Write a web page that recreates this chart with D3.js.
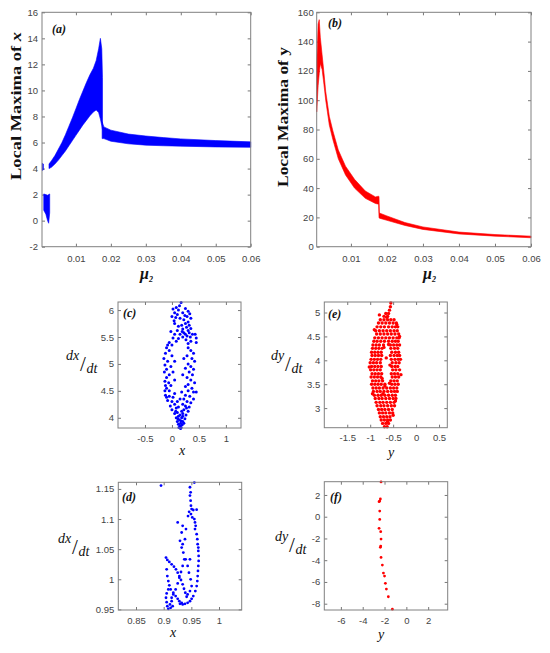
<!DOCTYPE html>
<html>
<head>
<meta charset="utf-8">
<script src="https://cdn.jsdelivr.net/npm/d3@7"></script>
<style>
    body { margin: 0; background: #fff; }
    .tick text { font-family: "Liberation Sans", Arial, sans-serif; fill: #444; }
    .tick line { stroke: #777; }
    .box { fill: none; stroke: #808080; stroke-width: 1; }
    .lab { font-family: "Liberation Serif", "Times New Roman", serif; fill: #111; }
</style>
</head>
<body>
<svg id="fig" width="550" height="653"></svg>
<script>
// ---- panel (a): local maxima of x vs mu2, bands as [mu, low, high]
let bandAEdge = [[0.0004, 3.85, 4.4], [0.0007, 3.9, 4.35]];
let bandALow = [[0.0008, 0.8, 2.05], [0.0014, 0.5, 2.0], [0.0019, 0.0, 1.95], [0.0022, -0.2, 2.0], [0.0025, 0.6, 2.05]];
let bandAMain = [[0.0023, 4.0, 4.35], [0.003, 4.1, 4.6], [0.004, 4.35, 5.0], [0.005, 4.65, 5.5], [0.006, 5.0, 6.0],
    [0.007, 5.35, 6.6], [0.008, 5.75, 7.25], [0.009, 6.15, 7.9], [0.010, 6.55, 8.6], [0.011, 6.95, 9.3],
    [0.012, 7.35, 9.95], [0.013, 7.7, 10.6], [0.014, 8.05, 11.2], [0.015, 8.35, 11.7], [0.0158, 8.5, 12.3],
    [0.0165, 8.3, 13.2], [0.0170, 7.8, 14.0], [0.0174, 7.3, 13.2], [0.0176, 7.0, 11.0]];
let bandAPost = [[0.0175, 6.3, 7.6], [0.018, 6.3, 7.2], [0.02, 6.1, 6.95], [0.025, 5.9, 6.65], [0.03, 5.8, 6.5],
    [0.035, 5.75, 6.38], [0.04, 5.72, 6.28], [0.05, 5.66, 6.15], [0.06, 5.63, 6.05]];
let ticksAx = [0.01, 0.02, 0.03, 0.04, 0.05, 0.06];
let ticksAy = [-2, 0, 2, 4, 6, 8, 10, 12, 14, 16];

// ---- panel (b): local maxima of y vs mu2
let bandB = [[0.0005, 92, 125], [0.0009, 110, 152], [0.0012, 118, 155], [0.0015, 125, 143], [0.0020, 121, 131],
    [0.0025, 111, 119], [0.003, 100, 106], [0.004, 83, 89], [0.005, 73, 79], [0.0065, 60, 66],
    [0.0085, 49, 55], [0.011, 40, 46], [0.014, 33, 38], [0.0168, 29.5, 34], [0.0177, 29, 34.5],
    [0.0178, 20, 34], [0.0179, 19.5, 23], [0.02, 18, 21], [0.025, 14.5, 16.5], [0.03, 11.8, 13.5],
    [0.04, 8.7, 10], [0.05, 7.2, 8.3], [0.06, 6.1, 7.2]];
let ticksBy = [0, 20, 40, 60, 80, 100, 120, 140, 160];

// ---- panel (c): x vs dx/dt
let pointsC = [[0.17, 6.14], [0.02, 6.02], [0.08, 6.05], [0.12, 6.0], [0.25, 6.03], [0.3, 5.98], [0.05, 5.95],
    [0.1, 5.92], [0.2, 5.95], [0.33, 5.93], [0.0, 5.88], [0.07, 5.86], [0.15, 5.85], [0.28, 5.88], [0.35, 5.85],
    [0.22, 5.82], [0.3, 5.78], [0.25, 5.75], [0.32, 5.72], [0.18, 5.72], [0.05, 5.75], [0.12, 5.7], [0.27, 5.68],
    [0.35, 5.66], [0.2, 5.65], [0.1, 5.62], [-0.02, 5.6], [0.3, 5.62], [0.22, 5.58], [0.25, 5.55], [0.28, 5.52],
    [0.15, 5.55], [0.05, 5.55], [0.32, 5.58], [0.38, 5.55], [0.45, 5.48], [0.43, 5.55], [0.2, 5.5], [0.26, 5.45],
    [0.02, 5.48], [0.08, 5.42], [-0.05, 5.4], [0.35, 5.42], [0.3, 5.38], [0.14, 6.08], [0.04, 5.8], [0.24, 5.9],
    [0.19, 5.6], [0.34, 5.5], [0.12, 5.47], [-0.1, 5.3], [-0.12, 5.2], [-0.05, 5.25], [0.0, 5.15], [-0.15, 5.1],
    [-0.08, 5.05], [-0.13, 4.98], [-0.02, 4.95],
    [-0.1, 4.9], [-0.14, 4.85], [-0.05, 4.8], [0.02, 4.85], [-0.1, 4.75], [-0.13, 4.68], [-0.06, 4.65], [-0.12, 4.6],
    [-0.02, 4.6], [-0.1, 4.55], [-0.05, 4.5], [-0.13, 4.5], [0.05, 5.05], [0.05, 4.7], [0.0, 5.35], [-0.08, 5.35],
    [0.3, 5.3], [0.35, 5.25], [0.4, 5.2], [0.28, 5.15], [0.37, 5.1], [0.42, 5.05], [0.3, 5.0], [0.35, 4.95],
    [0.25, 4.92], [0.4, 4.9], [0.32, 4.85], [0.38, 4.8], [0.28, 4.75], [0.35, 4.7], [0.42, 4.65], [0.3, 4.62],
    [0.25, 4.58], [0.37, 4.55], [0.45, 4.48], [0.4, 4.48], [0.3, 4.5], [0.22, 5.1], [0.2, 4.8], [0.45, 5.4],
    [-0.12, 4.42], [-0.05, 4.4], [0.02, 4.38], [0.25, 4.42], [0.33, 4.4], [0.4, 4.35], [-0.08, 4.32], [0.0, 4.3],
    [0.28, 4.3], [0.35, 4.28], [0.05, 4.25], [-0.03, 4.22], [0.25, 4.22], [0.32, 4.2], [0.08, 4.18], [0.0, 4.15],
    [0.22, 4.15], [0.3, 4.12], [0.1, 4.1], [0.05, 4.08], [0.2, 4.08], [0.26, 4.05], [0.12, 4.03], [0.08, 4.0],
    [0.18, 4.0], [0.24, 3.98], [0.14, 3.96], [0.1, 3.93], [0.2, 3.93], [0.16, 3.9], [0.12, 3.88], [0.19, 3.87],
    [0.15, 3.85], [0.17, 3.82], [0.13, 3.82], [0.16, 3.8], [0.2, 4.03], [0.15, 4.05], [0.18, 4.12], [0.12, 4.2],
    [0.1, 4.3], [0.2, 4.25], [0.22, 4.35], [0.15, 4.35], [0.05, 4.45], [0.18, 4.48], [0.22, 3.9], [0.11, 3.98],
    [0.17, 3.94], [0.07, 4.12], [0.27, 4.18], [-0.1, 4.38]];
let ticksCx = [-0.5, 0, 0.5, 1];
let ticksCy = [4, 4.5, 5, 5.5, 6];

// ---- panel (e): y vs dy/dt, rows of [dy/dt, [y values]] plus loose points
let rowsE = [[5.2, [-0.55]], [5.12, [-0.56]], [5.05, [-0.58]], [4.98, [-0.6, -0.66]], [4.92, [-0.62, -0.7]],
    [4.85, [-0.78, -0.7, -0.62, -0.55, -0.48]], [4.78, [-0.82, -0.74, -0.66, -0.58, -0.5, -0.43]],
    [4.7, [-0.85, -0.77, -0.69, -0.6, -0.52, -0.45, -0.4]], [4.62, [-0.88, -0.8, -0.72, -0.64, -0.56, -0.48, -0.41]],
    [4.55, [-0.86, -0.78, -0.7, -0.62, -0.54, -0.46, -0.38]], [4.47, [-0.9, -0.82, -0.74, -0.66, -0.58, -0.5, -0.42, -0.37]],
    [4.4, [-0.92, -0.85, -0.77, -0.69, -0.6, -0.52, -0.45, -0.39]], [4.32, [-0.94, -0.87, -0.8, -0.71, -0.56, -0.49, -0.42, -0.36]],
    [4.25, [-0.95, -0.88, -0.81, -0.74, -0.55, -0.47, -0.4]], [4.17, [-0.97, -0.9, -0.83, -0.76, -0.53, -0.45, -0.38]],
    [4.1, [-0.96, -0.89, -0.82, -0.75, -0.56, -0.48, -0.41, -0.36]], [4.02, [-0.98, -0.91, -0.84, -0.77, -0.54, -0.46, -0.39]],
    [3.95, [-1.0, -0.93, -0.86, -0.78, -0.52, -0.44, -0.37]], [3.87, [-0.97, -0.9, -0.83, -0.76, -0.53, -0.46, -0.4]],
    [3.8, [-0.99, -0.92, -0.85, -0.78, -0.51, -0.44, -0.36]], [3.72, [-0.96, -0.89, -0.82, -0.75, -0.54, -0.47, -0.4]],
    [3.65, [-0.98, -0.91, -0.84, -0.77, -0.52, -0.45, -0.38]], [3.57, [-0.95, -0.88, -0.81, -0.73, -0.55, -0.48, -0.41]],
    [3.5, [-0.97, -0.9, -0.83, -0.76, -0.68, -0.53, -0.46, -0.39]], [3.42, [-0.94, -0.87, -0.8, -0.72, -0.64, -0.56, -0.49, -0.42]],
    [3.35, [-0.93, -0.85, -0.78, -0.7, -0.62, -0.54, -0.47, -0.41]], [3.27, [-0.91, -0.83, -0.76, -0.68, -0.6, -0.52, -0.45]],
    [3.2, [-0.89, -0.81, -0.74, -0.66, -0.58, -0.5, -0.44]], [3.12, [-0.87, -0.79, -0.72, -0.64, -0.56, -0.48]],
    [3.05, [-0.85, -0.77, -0.7, -0.62, -0.54, -0.47]], [2.97, [-0.82, -0.75, -0.68, -0.6, -0.52]],
    [2.9, [-0.8, -0.73, -0.66, -0.58, -0.51]], [2.82, [-0.78, -0.71, -0.64, -0.57]],
    [2.75, [-0.76, -0.69, -0.62, -0.56]], [2.68, [-0.73, -0.66, -0.6]], [2.61, [-0.69, -0.63]]];
let looseE = [[-0.65, 4.05], [-0.72, 3.3], [-0.58, 3.52], [-0.91, 4.64], [-0.34, 4.02], [-0.45, 3.15],
    [-0.62, 2.72], [-0.7, 4.27], [-0.6, 4.33], [-0.68, 3.46], [-1.02, 3.86], [-0.33, 3.7], [-0.64, 4.9],
    [-0.74, 3.62], [-0.57, 3.9], [-0.8, 4.95], [-0.42, 4.75], [-0.36, 4.5], [-0.5, 2.85], [-0.95, 3.3]];
let ticksEx = [-1.5, -1, -0.5, 0, 0.5];
let ticksEy = [3, 3.5, 4, 4.5, 5];

// ---- panel (d): x vs dx/dt
let pointsD = [[0.8952, 1.1555], [0.9554, 1.1605], [0.9475, 1.1528], [0.9487, 1.1444], [0.9475, 1.1389], [0.9487, 1.1305],
    [0.9493, 1.1222], [0.9505, 1.1166], [0.9535, 1.115], [0.9596, 1.1155], [0.9493, 1.1083], [0.9517, 1.1027],
    [0.9554, 1.1], [0.9566, 1.0944], [0.9578, 1.0888], [0.9566, 1.0833], [0.9596, 1.0749], [0.9608, 1.0666],
    [0.9614, 1.0583], [0.9626, 1.0527], [0.9626, 1.0471], [0.9632, 1.0388], [0.9632, 1.0305], [0.9626, 1.0221],
    [0.962, 1.0138], [0.9614, 1.0054], [0.9608, 0.9971], [0.9596, 0.9888], [0.9572, 0.9804], [0.9535, 0.9721],
    [0.9505, 0.9676], [0.9475, 0.9637], [0.9433, 0.9609], [0.9385, 0.9593], [0.9343, 0.9582], [0.9295, 0.9593],
    [0.946, 1.112], [0.944, 1.105],
    [0.9253, 1.0944], [0.9343, 1.0888], [0.9325, 1.0777], [0.9403, 1.0833], [0.9385, 1.0666], [0.9295, 1.0638],
    [0.9343, 1.0583], [0.9325, 1.0527], [0.9355, 1.0444], [0.9397, 1.0332], [0.9475, 1.0332], [0.9433, 1.0221],
    [0.9457, 1.011], [0.9487, 0.9999], [0.9505, 0.9888], [0.9475, 0.9804], [0.9433, 0.9749],
    [0.9042, 1.036], [0.9066, 1.0321], [0.9102, 1.0288], [0.9144, 1.0249], [0.9186, 1.021], [0.9222, 1.0166],
    [0.9253, 1.011], [0.9283, 1.0054], [0.9313, 0.9988], [0.9343, 0.9916], [0.9367, 0.9843], [0.9391, 0.9776],
    [0.9415, 0.971], [0.9373, 1.0332], [0.9343, 1.0221], [0.9313, 1.0121], [0.9283, 1.0027], [0.9253, 0.9932],
    [0.9216, 0.9832], [0.9174, 0.9749], [0.9144, 0.9693], [0.9054, 1.0166], [0.9066, 1.0054], [0.9084, 0.9971],
    [0.9102, 0.9899], [0.9084, 0.9832], [0.9054, 0.9765], [0.9042, 0.9693], [0.9054, 0.962], [0.9066, 0.9554],
    [0.9084, 0.951], [0.9126, 0.9526], [0.9162, 0.9554], [0.9114, 0.9582], [0.9144, 0.9637], [0.9126, 0.9832],
    [0.9174, 0.9776], [0.9216, 0.9721], [0.9253, 0.9676], [0.9283, 0.9637], [0.9325, 0.9609]];
let ticksDx = [0.85, 0.9, 0.95, 1];
let ticksDy = [0.95, 1, 1.05, 1.1, 1.15];

// ---- panel (f): y vs dy/dt
let pointsF = [[-2.32, 3.2], [-2.38, 1.63], [-2.44, 1.44], [-2.5, 1.38], [-2.44, 0.52], [-2.44, -0.25],
    [-2.5, -1.07], [-2.35, -1.38], [-2.32, -2.06], [-2.35, -2.7], [-2.38, -2.82], [-2.32, -3.74],
    [-2.2, -4.45], [-2.1, -5.18], [-2.0, -5.46], [-1.92, -6.13], [-1.83, -6.66], [-1.65, -7.36], [-1.28, -8.5]];
let ticksFx = [-6, -4, -2, 0, 2];
let ticksFy = [-8, -6, -4, -2, 0, 2];

const svg = d3.select('#fig');
const fmt = d => String(+d.toFixed(3));

/**
 * Draws one boxed panel with inward ticks on all four sides
 */
function panel(o) {
    let g = svg.append('g').attr('transform', `translate(${o.left},${o.top})`);
    let x = d3.scaleLinear().domain(o.xDom).range([0, o.w]);
    let y = d3.scaleLinear().domain(o.yDom).range([o.h, 0]);

    g.append('g').attr('transform', `translate(0,${o.h})`)
        .call(d3.axisBottom(x).tickValues(o.xTicks).tickSize(-3).tickPadding(o.xPad).tickFormat(fmt));
    g.append('g')
        .call(d3.axisLeft(y).tickValues(o.yTicks).tickSize(-3).tickPadding(o.yPad).tickFormat(fmt));
    g.append('g')
        .call(d3.axisTop(x).tickValues(o.xTicks).tickSize(-3).tickFormat(''));
    g.append('g').attr('transform', `translate(${o.w},0)`)
        .call(d3.axisRight(y).tickValues(o.yTicks).tickSize(-3).tickFormat(''));
    g.selectAll('.domain').remove();
    g.selectAll('.tick text').style('font-size', o.fs + 'px');

    let plot = g.append('g');
    g.append('rect').attr('class', 'box').attr('width', o.w).attr('height', o.h);
    return {g: g, x: x, y: y, plot: plot};
}

function drawBand(p, data, color) {
    let area = d3.area()
        .x(d => p.x(d[0]))
        .y0(d => p.y(d[1]))
        .y1(d => p.y(d[2]));
    p.plot.append('path').datum(data)
        .attr('d', area)
        .attr('fill', color)
        .attr('stroke', color)
        .attr('stroke-width', 0.6);
}

function drawDots(p, data, color, r) {
    p.plot.selectAll(null).data(data).enter()
        .append('circle')
        .attr('cx', d => p.x(d[0]))
        .attr('cy', d => p.y(d[1]))
        .attr('r', r)
        .attr('fill', color);
}

function panelTag(t, x, y) {
    svg.append('text').attr('class', 'lab').attr('x', x).attr('y', y)
        .style('font-size', '12px').style('font-weight', 'bold').style('font-style', 'italic')
        .text(t);
}

function muLabel(x, y) {
    let t = svg.append('text').attr('class', 'lab').attr('x', x).attr('y', y)
        .style('font-weight', 'bold').style('font-style', 'italic').style('font-size', '16px');
    t.append('tspan').text('\u03BC');
    t.append('tspan').attr('dy', 3).style('font-size', '8px').text('2');
}

function yTitle(txt, x, y, len, italicVar) {
    let t = svg.append('text').attr('class', 'lab')
        .attr('transform', `translate(${x},${y}) rotate(-90)`)
        .attr('text-anchor', 'middle')
        .attr('textLength', len).attr('lengthAdjust', 'spacingAndGlyphs')
        .style('font-weight', 'bold').style('font-size', '14px');
    t.append('tspan').text(txt);
    t.append('tspan').style('font-style', italicVar ? 'italic' : 'normal').text(italicVar ? 'x' : 'y');
}

// "dx/dt" style label: numerator raised, big slash, denominator lowered
function ratioLabel(num, x, yb) {
    svg.append('text').attr('class', 'lab').attr('x', x).attr('y', yb)
        .style('font-style', 'italic').style('font-size', '14px').text(num);
    svg.append('text').attr('class', 'lab').attr('x', x + 14).attr('y', yb + 11)
        .style('font-size', '21px').text('/');
    svg.append('text').attr('class', 'lab').attr('x', x + 20.5).attr('y', yb + 13)
        .style('font-style', 'italic').style('font-size', '14px').text('dt');
}

function axisVar(t, x, y) {
    svg.append('text').attr('class', 'lab').attr('x', x).attr('y', y)
        .attr('text-anchor', 'middle')
        .style('font-style', 'italic').style('font-size', '14px').text(t);
}

// (a)
let pa = panel({left: 42, top: 12.3, w: 208.7, h: 234.4, xDom: [0.0003, 0.06], yDom: [-2, 16],
    xTicks: ticksAx, yTicks: ticksAy, xPad: 8.5, yPad: 4, fs: 9.5});
[bandAEdge, bandALow, bandAMain, bandAPost].forEach(b => drawBand(pa, b, '#0000ff'));
panelTag('(a)', 52, 33);
muLabel(140, 279);
yTitle('Local Maxima of ', 21, 106, 148, true);

// (b)
let pb = panel({left: 316.7, top: 12.3, w: 214.3, h: 234.4, xDom: [0.0005, 0.06], yDom: [0, 160],
    xTicks: ticksAx, yTicks: ticksBy, xPad: 8.5, yPad: 3, fs: 9.5});
drawBand(pb, bandB, '#ff0000');
panelTag('(b)', 328, 27);
muLabel(423, 279);
yTitle('Local Maxima of ', 288, 117, 140, false);

// (c)
let pc = panel({left: 118, top: 302, w: 123, h: 126, xDom: [-1.0, 1.28], yDom: [3.81, 6.15],
    xTicks: ticksCx, yTicks: ticksCy, xPad: 7, yPad: 4, fs: 9.5});
drawDots(pc, pointsC, '#0000ff', 1.5);
panelTag('(c)', 123, 317);
ratioLabel('dx', 66, 360);
axisVar('x', 182, 455);

// (e)
let pointsE = looseE.slice();
rowsE.forEach(r => r[1].forEach(v => pointsE.push([v, r[0]])));
let pe = panel({left: 324.3, top: 302, w: 123, h: 125.7, xDom: [-2.0, 0.68], yDom: [2.59, 5.22],
    xTicks: ticksEx, yTicks: ticksEy, xPad: 7, yPad: 4, fs: 9.5});
drawDots(pe, pointsE, '#ff0000', 1.7);
panelTag('(e)', 328, 318);
ratioLabel('dy', 271, 360);
axisVar('y', 391, 457);

// (d)
let pd = panel({left: 118.3, top: 482.3, w: 123.4, h: 127.7, xDom: [0.818, 1.041], yDom: [0.949, 1.161],
    xTicks: ticksDx, yTicks: ticksDy, xPad: 7, yPad: 4, fs: 9.5});
drawDots(pd, pointsD, '#0000ff', 1.4);
panelTag('(d)', 122, 501);
ratioLabel('dx', 58, 543);
axisVar('x', 173, 637);

// (f)
let pf = panel({left: 324.3, top: 481.7, w: 123.4, h: 128.3, xDom: [-7.52, 3.79], yDom: [-8.58, 3.22],
    xTicks: ticksFx, yTicks: ticksFy, xPad: 7, yPad: 4, fs: 9.5});
drawDots(pf, pointsF, '#ff0000', 1.4);
panelTag('(f)', 330, 501);
ratioLabel('dy', 275, 541);
axisVar('y', 381, 639);
</script>
</body>
</html>
